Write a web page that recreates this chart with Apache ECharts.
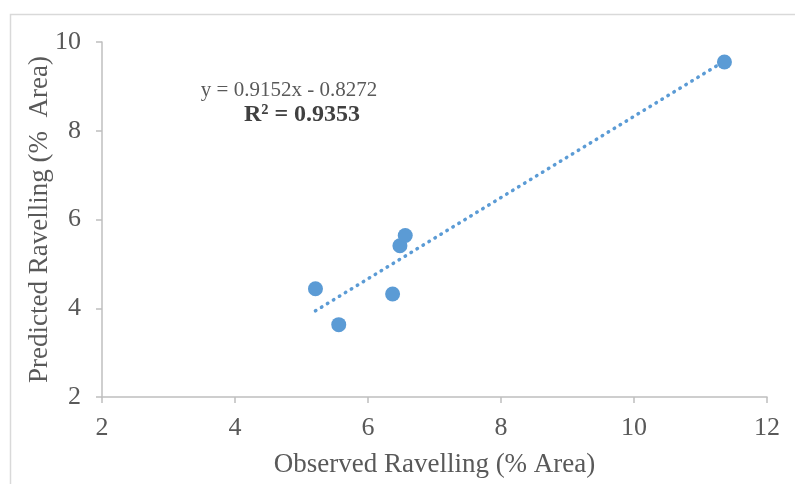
<!DOCTYPE html>
<html>
<head>
<meta charset="utf-8">
<script src="https://cdn.jsdelivr.net/npm/echarts@6/dist/echarts.min.js"></script>
<style>html,body{margin:0;padding:0;background:#fff;}#c{width:795px;height:484px;}</style>
</head>
<body>
<div id="c"></div>
<script>
var observed = [5.21, 5.56, 6.37, 6.48, 6.56, 11.36];
var predicted = [4.44, 3.63, 4.32, 5.41, 5.64, 9.55];
var trendSlope = 0.9152;
var trendIntercept = -0.8272;
var xTicks = [2, 4, 6, 8, 10, 12];
var yTicks = [2, 4, 6, 8, 10];
var equationText = 'y = 0.9152x - 0.8272';
var r2Text = 'R² = 0.9353';
var xTitle = 'Observed Ravelling (% Area)';
var yTitle = 'Predicted Ravelling (%  Area)';

var points = observed.map(function (x, i) { return [x, predicted[i]]; });
var xMin = Math.min.apply(null, observed), xMax = Math.max.apply(null, observed);
var trend = [[xMin, trendSlope * xMin + trendIntercept], [xMax, trendSlope * xMax + trendIntercept]];

var font = '"Liberation Serif", "Times New Roman", serif';
var chart = echarts.init(document.getElementById('c'), null, {renderer: 'canvas'});
chart.setOption({
  animation: false,
  backgroundColor: '#ffffff',
  grid: {left: 102, right: 28, top: 42, bottom: 87, containLabel: false, outerBoundsMode: 'none'},
  xAxis: {
    type: 'value', min: xTicks[0], max: xTicks[xTicks.length - 1], interval: 2,
    name: xTitle, nameLocation: 'middle', nameGap: 54, nameMoveOverlap: false,
    nameTextStyle: {fontFamily: font, fontSize: 27, color: '#595959'},
    axisLine: {show: true, lineStyle: {color: '#bfbfbf', width: 1.5}},
    axisTick: {show: true, length: 6, lineStyle: {color: '#bfbfbf', width: 1.5}},
    axisLabel: {fontFamily: font, fontSize: 26, color: '#595959', margin: 18},
    splitLine: {show: false}
  },
  yAxis: {
    type: 'value', min: yTicks[0], max: yTicks[yTicks.length - 1], interval: 2,
    name: yTitle, nameLocation: 'middle', nameGap: 49, nameMoveOverlap: false,
    nameTextStyle: {fontFamily: font, fontSize: 27, color: '#595959'},
    axisLine: {show: true, lineStyle: {color: '#bfbfbf', width: 1.5}},
    axisTick: {show: true, length: 6, lineStyle: {color: '#bfbfbf', width: 1.5}},
    axisLabel: {fontFamily: font, fontSize: 26, color: '#595959', margin: 21},
    splitLine: {show: false}
  },
  graphic: [
    {type: 'rect', shape: {x: 10.5, y: 14.5, width: 900, height: 600}, style: {fill: 'none', stroke: '#d9d9d9', lineWidth: 1.5}, z: -1},
    {type: 'text', x: 289, y: 90, style: {text: equationText, font: '21px ' + font, fill: '#595959', textAlign: 'center', textVerticalAlign: 'middle'}},
    {type: 'text', x: 302, y: 115, style: {text: r2Text, font: 'bold 24px ' + font, fill: '#404040', textAlign: 'center', textVerticalAlign: 'middle'}}
  ],
  series: [
    {
      type: 'line', data: trend, symbol: 'none', silent: true,
      lineStyle: {color: '#5b9bd5', width: 3.5, type: [0.5, 6.5], cap: 'round'},
      z: 1
    },
    {
      type: 'scatter', data: points, symbol: 'circle', symbolSize: 15,
      itemStyle: {color: '#5b9bd5', opacity: 1},
      z: 2
    }
  ]
});
</script>
</body>
</html>
